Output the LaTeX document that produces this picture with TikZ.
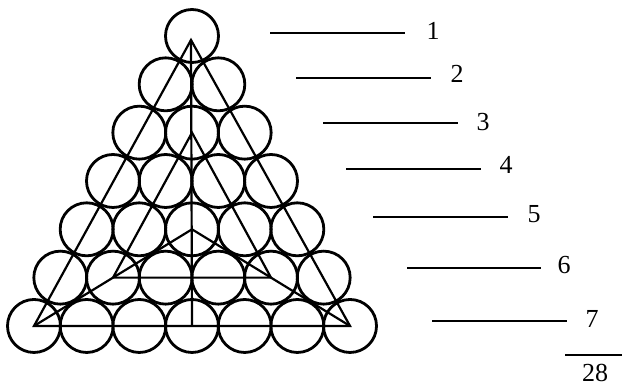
\documentclass[tikz,border=0pt]{standalone}
\usepackage{fontspec}
\setmainfont{Liberation Serif}
\begin{document}
\begin{tikzpicture}[x=1pt,y=-1pt,
  ball/.style={circle,draw,line width=2.8pt,minimum size=53pt,inner sep=0pt},
  geo/.style={line width=2.2pt},
  rule/.style={line width=1.7pt},
  num/.style={anchor=base,inner sep=0pt,font=\fontsize{26}{30}\selectfont}]
\useasboundingbox (0,0) rectangle (622,387);
% balls
\foreach \r in {1,...,7}{
  \foreach \k in {1,...,\r}{
    \node[ball] (c-\r-\k) at ({192+(\k-(\r+1)/2)*52.67},{36+(\r-1)*48.33}) {};
  }
}
\coordinate (apex) at (191,40);
% big triangle
\draw[geo,line join=miter] (apex) -- (c-7-1.center) -- (c-7-7.center) -- cycle;
% median from apex
\draw[geo] (apex) -- (c-7-4.center);
% lines from base corners to centre
\draw[geo] (c-7-1.center) -- (c-5-3.center) -- (c-7-7.center);
% inner triangle
\draw[geo] (c-3-2.center) -- (c-6-2.center) -- (c-6-5.center) -- cycle;
% rules and numbers
\foreach \i/\xa/\xb/\y/\xn/\yn in {1/270/405/33/433/40, 2/296/431/78/457/83, 3/323/458/123/483/131,
  4/346/481/169/506/174, 5/373/508/217/534/223, 6/407/541/268/564/274, 7/432/567/321/592/328}{
  \coordinate (ra-\i) at (\xa,\y);
  \coordinate (rb-\i) at (\xb,\y);
  \draw[rule] (ra-\i) -- (rb-\i);
  \node[num] (n-\i) at (\xn,\yn) {\i};
}
\coordinate (sa) at (565,355);
\coordinate (sb) at (622,355);
\draw[rule] (sa) -- (sb);
\node[num] (total) at (595,382) {28};
\end{tikzpicture}
\end{document}
